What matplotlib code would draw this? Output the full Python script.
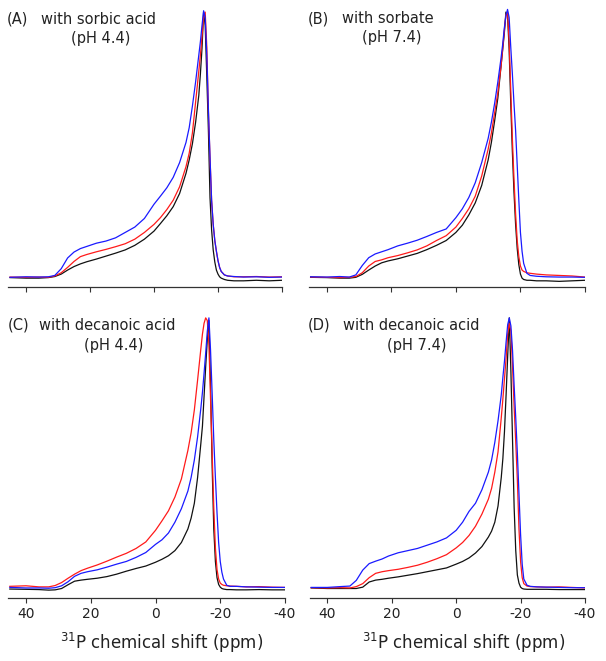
import matplotlib
matplotlib.use("Agg")
import matplotlib.pyplot as plt

plt.rcParams['font.family'] = ['DejaVu Sans']

# chemical shift grid (ppm)
ppm = [45, 40, 36, 33, 31, 29, 27, 25, 23, 21, 18, 15, 12, 9, 6, 3, 0, -2, -4, -6, -8, -10,
       -11, -12, -13, -14, -14.5, -15, -15.5, -16, -16.5, -17, -17.5, -18, -18.5, -19, -19.5,
       -20, -20.5, -21, -22, -23, -25, -28, -32, -36, -40]

# (A) sorbic acid pH 4.4
a_black = [0.002, 0.0, 0.0, 0.002, 0.006, 0.015, 0.03, 0.043, 0.053, 0.061, 0.071, 0.082, 0.093, 0.105,
           0.122, 0.145, 0.175, 0.203, 0.232, 0.266, 0.315, 0.39, 0.44, 0.5, 0.58, 0.68, 0.76, 0.855,
           0.99, 0.94, 0.75, 0.55, 0.3, 0.18, 0.105, 0.06, 0.03, 0.015, 0.005, 0.0, -0.005, -0.008,
           -0.01, -0.01, -0.008, -0.01, -0.008]
a_red = [0.004, 0.003, 0.004, 0.003, 0.008, 0.02, 0.04, 0.062, 0.08, 0.088, 0.098, 0.107, 0.117, 0.128,
         0.145, 0.17, 0.2, 0.225, 0.255, 0.29, 0.34, 0.415, 0.465, 0.54, 0.655, 0.77, 0.83, 0.9,
         0.97, 0.99, 0.86, 0.62, 0.45, 0.29, 0.2, 0.14, 0.1, 0.065, 0.04, 0.025, 0.012, 0.008,
         0.005, 0.005, 0.006, 0.004, 0.005]
a_blue = [0.003, 0.005, 0.004, 0.005, 0.01, 0.035, 0.075, 0.097, 0.11, 0.118, 0.13, 0.138, 0.15, 0.17,
          0.19, 0.222, 0.275, 0.305, 0.336, 0.375, 0.43, 0.505, 0.56, 0.64, 0.73, 0.83, 0.88, 0.94,
          0.995, 0.97, 0.83, 0.63, 0.45, 0.29, 0.2, 0.14, 0.1, 0.065, 0.04, 0.025, 0.012, 0.008,
          0.006, 0.004, 0.005, 0.003, 0.004]

# (B) sorbate pH 7.4
b_black = [0.003, 0.002, 0.0, 0.0, 0.003, 0.014, 0.03, 0.045, 0.057, 0.064, 0.072, 0.082, 0.092, 0.106,
           0.122, 0.14, 0.17, 0.197, 0.235, 0.28, 0.345, 0.44, 0.505, 0.585, 0.67, 0.79, 0.85, 0.91,
           0.99, 0.98, 0.85, 0.65, 0.47, 0.32, 0.2, 0.11, 0.05, 0.015, 0.0, -0.005, -0.008, -0.008,
           -0.01, -0.01, -0.012, -0.01, -0.008]
b_red = [0.004, 0.003, 0.002, 0.003, 0.006, 0.02, 0.045, 0.062, 0.068, 0.076, 0.084, 0.094, 0.105, 0.12,
         0.14, 0.158, 0.19, 0.222, 0.258, 0.305, 0.38, 0.48, 0.54, 0.615, 0.69, 0.79, 0.855, 0.92,
         0.98, 0.99, 0.88, 0.7, 0.52, 0.37, 0.24, 0.14, 0.08, 0.045, 0.03, 0.025, 0.02, 0.018,
         0.015, 0.012, 0.01, 0.008, 0.004]
b_blue = [0.005, 0.004, 0.006, 0.004, 0.012, 0.047, 0.076, 0.09, 0.098, 0.106, 0.12, 0.13, 0.141, 0.155,
          0.17, 0.183, 0.225, 0.258, 0.3, 0.355, 0.43, 0.52, 0.58, 0.65, 0.73, 0.82, 0.87, 0.93,
          0.975, 1.0, 0.97, 0.86, 0.76, 0.65, 0.55, 0.42, 0.29, 0.17, 0.1, 0.055, 0.018, 0.01,
          0.007, 0.005, 0.004, 0.004, 0.003]

# (C) decanoic acid pH 4.4
c_black = [-0.002, -0.003, -0.004, -0.006, -0.005, 0.0, 0.014, 0.027, 0.031, 0.034, 0.038, 0.044, 0.053,
           0.064, 0.074, 0.083, 0.097, 0.108, 0.121, 0.14, 0.17, 0.22, 0.26, 0.315, 0.41, 0.535, 0.6,
           0.71, 0.82, 0.92, 0.99, 0.75, 0.45, 0.22, 0.1, 0.04, 0.015, 0.005, 0.0, -0.002, -0.004,
           -0.004, -0.005, -0.005, -0.004, -0.005, -0.005]
c_red = [0.008, 0.01, 0.006, 0.006, 0.011, 0.022, 0.038, 0.053, 0.066, 0.075, 0.087, 0.101, 0.116, 0.13,
         0.148, 0.172, 0.215, 0.25, 0.287, 0.338, 0.405, 0.51, 0.575, 0.66, 0.77, 0.885, 0.94, 0.98,
         1.0, 0.99, 0.9, 0.7, 0.5, 0.3, 0.15, 0.07, 0.035, 0.02, 0.015, 0.012, 0.01, 0.009,
         0.008, 0.006, 0.007, 0.005, 0.004]
c_blue = [0.004, 0.002, 0.002, 0.001, 0.003, 0.01, 0.025, 0.045, 0.056, 0.062, 0.069, 0.079, 0.09, 0.1,
          0.115, 0.133, 0.163, 0.18, 0.205, 0.245, 0.295, 0.36, 0.41, 0.475, 0.56, 0.665, 0.725, 0.795,
          0.87, 0.95, 1.0, 0.88, 0.72, 0.55, 0.41, 0.28, 0.17, 0.1, 0.06, 0.035, 0.012, 0.008,
          0.008, 0.006, 0.005, 0.004, 0.004]

# (D) decanoic acid pH 7.4
d_black = [0.002, 0.0, 0.0, 0.0, 0.0, 0.005, 0.024, 0.031, 0.034, 0.038, 0.043, 0.049, 0.055, 0.062,
           0.069, 0.076, 0.09, 0.1, 0.113, 0.131, 0.155, 0.19, 0.212, 0.245, 0.305, 0.41, 0.48, 0.58,
           0.715, 0.86, 1.0, 0.8, 0.55, 0.3, 0.14, 0.05, 0.02, 0.005, 0.0, -0.002, -0.003, -0.003,
           -0.003, -0.003, -0.004, -0.004, -0.004]
d_red = [0.003, 0.002, 0.003, 0.002, 0.007, 0.018, 0.04, 0.056, 0.062, 0.066, 0.071, 0.078, 0.086, 0.097,
         0.11, 0.125, 0.15, 0.17, 0.196, 0.23, 0.275, 0.33, 0.37, 0.43, 0.505, 0.63, 0.7, 0.775,
         0.85, 0.94, 0.98, 0.95, 0.82, 0.67, 0.54, 0.4, 0.22, 0.1, 0.04, 0.018, 0.009, 0.007,
         0.006, 0.005, 0.006, 0.004, 0.002]
d_blue = [0.004, 0.004, 0.007, 0.009, 0.03, 0.068, 0.092, 0.101, 0.109, 0.12, 0.132, 0.14, 0.148, 0.16,
          0.172, 0.187, 0.215, 0.245, 0.285, 0.315, 0.365, 0.43, 0.475, 0.54, 0.62, 0.715, 0.78, 0.84,
          0.91, 0.975, 1.0, 0.97, 0.88, 0.75, 0.63, 0.5, 0.35, 0.2, 0.09, 0.035, 0.012, 0.008,
          0.006, 0.005, 0.004, 0.003, 0.003]

tick_values = [40, 20, 0, -20, -40]
titles = ["with sorbic acid", "with sorbate", "with decanoic acid", "with decanoic acid"]
letters = ["(A)", "(B)", "(C)", "(D)"]
ph_labels = ["(pH 4.4)", "(pH 7.4)", "(pH 4.4)", "(pH 7.4)"]
xlabel_text = r"$^{31}$P chemical shift (ppm)"

W, H = 606, 661
fig = plt.figure(figsize=(W / 100, H / 100), dpi=100)
fig.patch.set_facecolor('white')


def add_ax(x0, x1, ytop, ybot):
    return fig.add_axes([x0 / W, 1 - ybot / H, (x1 - x0) / W, (ybot - ytop) / H])


panels = [
    dict(box=(8.4, 282, 0, 287), ylim=(-0.033, 1.035), series=(a_black, a_red, a_blue), labels=False,
         title_pos=((7, 24), (41, 24), (100.5, 43))),
    dict(box=(309, 585, 0, 287), ylim=(-0.033, 1.035), series=(b_black, b_red, b_blue), labels=False,
         title_pos=((308, 23), (342, 23), (392, 42))),
    dict(box=(8.2, 285, 300, 597.7), ylim=(-0.034, 1.066), series=(c_black, c_red, c_blue), labels=True,
         title_pos=((8, 330), (39, 330), (113.5, 350))),
    dict(box=(309.6, 585, 300, 597.7), ylim=(-0.034, 1.066), series=(d_black, d_red, d_blue), labels=True,
         title_pos=((308, 330), (342.7, 330), (416.5, 350))),
]

colors = ['#111111', '#ff1a1a', '#1a1aff']

for i, p in enumerate(panels):
    ax = add_ax(*p['box'])
    for ser, col in zip(p['series'], colors):
        ax.plot(ppm, ser, color=col, lw=0.9)
    ax.set_xlim(45.5, -40)
    ax.set_ylim(*p['ylim'])
    for s in ['top', 'left', 'right']:
        ax.spines[s].set_visible(False)
    ax.spines['bottom'].set_color('#333333')
    ax.spines['bottom'].set_linewidth(0.9)
    ax.set_yticks([])
    ax.set_xticks(tick_values)
    ax.tick_params(axis='x', direction='out', length=3.4, width=0.8, color='#333333',
                   labelsize=10, pad=3.5, labelcolor='#222222')
    if p['labels']:
        ax.set_xticklabels([str(t) for t in tick_values])
    else:
        ax.set_xticklabels([])
    ax.patch.set_alpha(0)
    (lx, ly), (wx, wy), (px, py) = p['title_pos']
    fig.text(lx / W, 1 - ly / H, letters[i], ha='left', va='baseline', fontsize=10.5, color='#222222')
    fig.text(wx / W, 1 - wy / H, titles[i], ha='left', va='baseline', fontsize=10.5, color='#222222')
    fig.text(px / W, 1 - py / H, ph_labels[i], ha='center', va='baseline', fontsize=10.5, color='#222222')

fig.text(162 / W, 1 - 649 / H, xlabel_text, ha='center', va='baseline', fontsize=12, color='#222222')
fig.text(464 / W, 1 - 649 / H, xlabel_text, ha='center', va='baseline', fontsize=12, color='#222222')

fig.savefig('out.png', dpi=100, facecolor='white')
